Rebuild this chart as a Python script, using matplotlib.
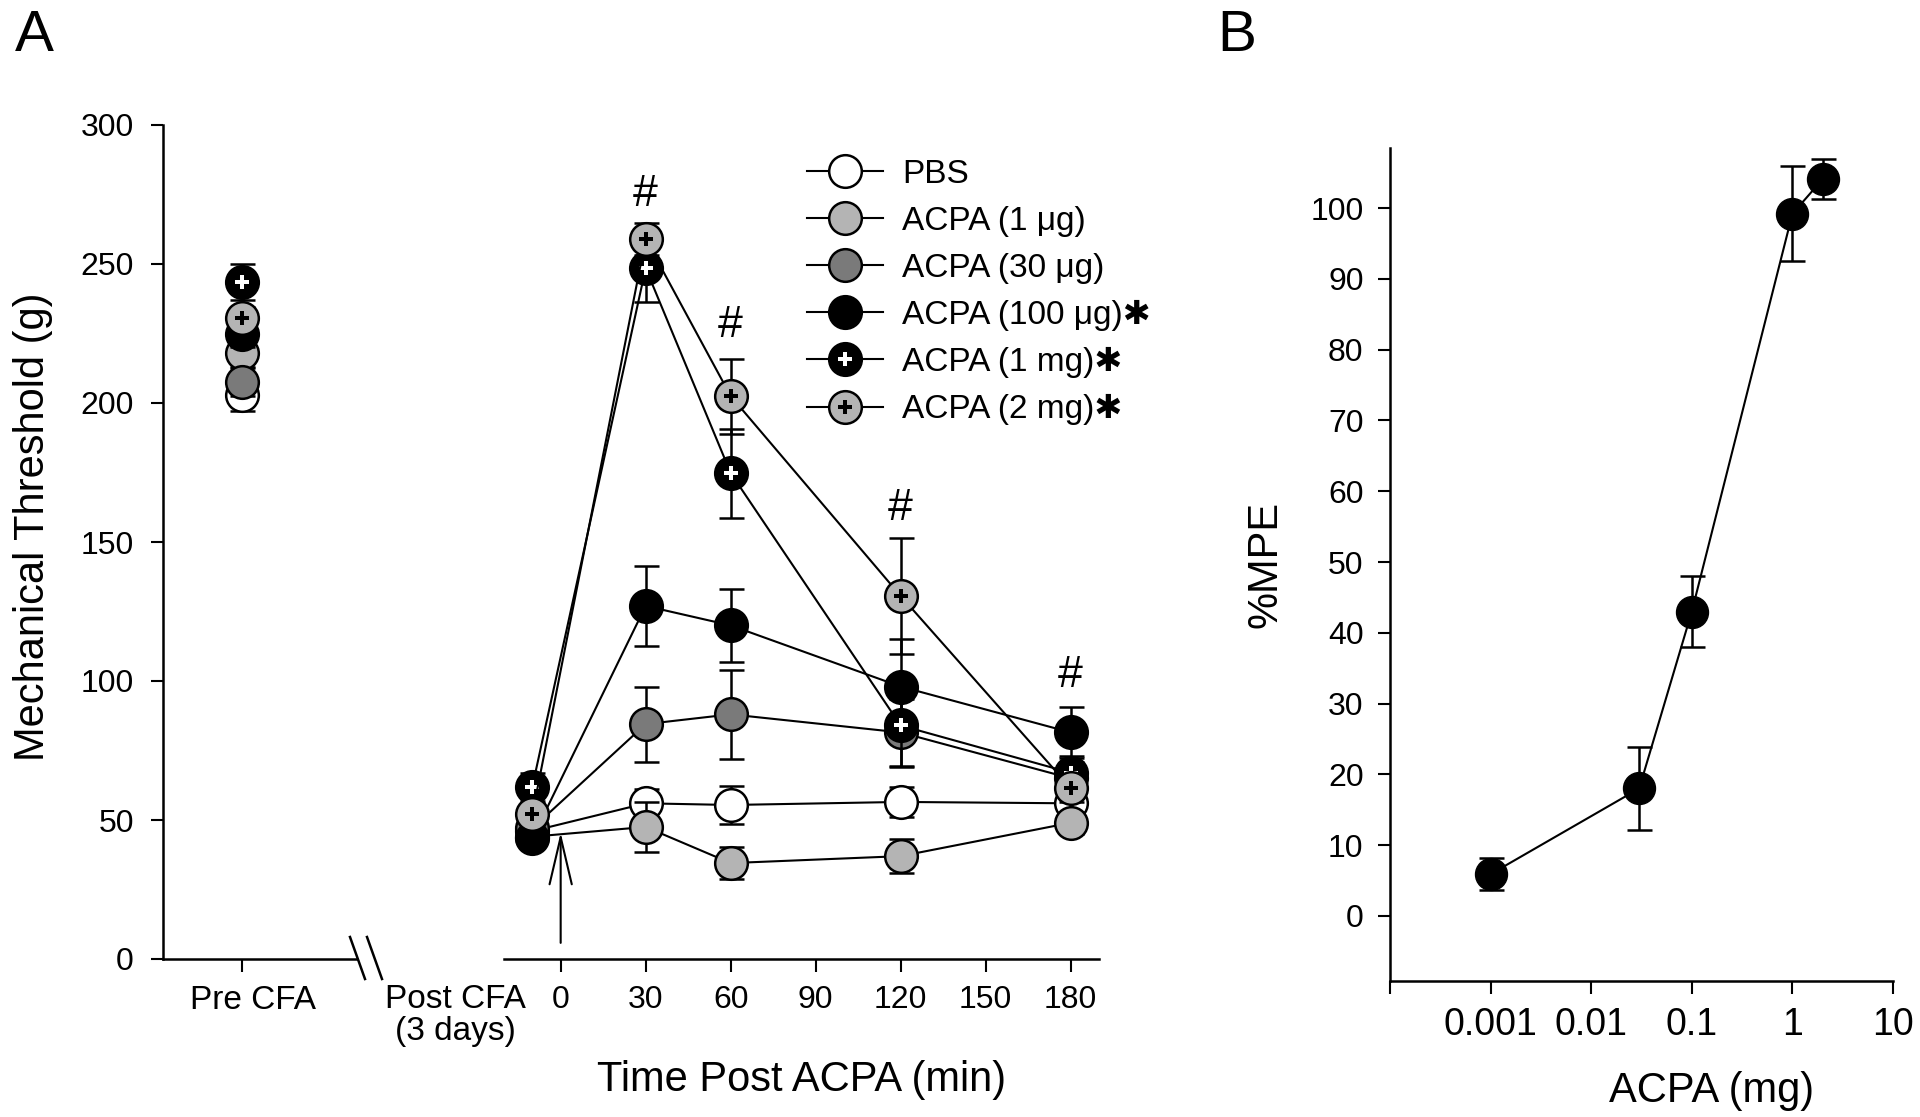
import matplotlib
matplotlib.use("Agg")
import matplotlib.pyplot as plt
import matplotlib.transforms as mtransforms
from matplotlib.lines import Line2D
from matplotlib.legend_handler import HandlerTuple

plt.rcParams['font.family'] = ['Liberation Sans', 'DejaVu Sans']

# ---- data, panel A ----
series = ['PBS', 'ACPA (1 μg)', 'ACPA (30 μg)', 'ACPA (100 μg)', 'ACPA (1 mg)', 'ACPA (2 mg)']
stars = ['', '', '', '✱', '✱', '✱']
faces = ['white', '#b4b4b4', '#7a7a7a', 'black', 'black', '#b4b4b4']
plus_colors = [None, None, None, None, 'white', 'black']

pre_mean = [203, 218, 207.5, 225, 243.5, 230.6]
pre_err = [6, 5, 5, 5, 6.5, 4]

post_time = [-10, 30, 60, 120, 180]
post_mean = [
    [46, 56, 55.4, 56.5, 56],
    [44, 47.5, 34.5, 37, 49],
    [47, 84.5, 88, 81.5, 65],
    [43.5, 127, 120, 98, 81.5],
    [62, 248.5, 174.8, 84, 67],
    [52, 259, 202.5, 130.6, 61.5],
]
post_err = [
    [4, 5, 7, 5.5, 5],
    [4, 9, 5.8, 6, 4],
    [4, 13.5, 16, 12, 6],
    [3, 14.5, 13, 17, 9.3],
    [5, 12, 16, 15, 6],
    [4, 5.7, 13.5, 21, 5],
]
hash_time = [30, 60, 120, 180]
hash_y = [275, 228, 162, 102]

# ---- data, panel B ----
dose = [0.001, 0.03, 0.1, 1, 2]
mpe = [5.9, 18.0, 43.0, 99.2, 104.1]
mpe_err = [2.3, 5.9, 5.0, 6.7, 2.8]

W, H = 1920, 1117
fig = plt.figure(figsize=(W / 100, H / 100), dpi=100)

def rect(x0, x1, ytop, ybot):
    return [x0 / W, 1 - ybot / H, (x1 - x0) / W, (ybot - ytop) / H]

ax_pre = fig.add_axes(rect(163, 357, 125, 959))
ax_post = fig.add_axes(rect(504, 1099, 125, 959))
ax_b = fig.add_axes(rect(1390, 1893, 148, 981))

ms = 23.5
lw = 1.5
ew = 1.8
tick_fs = 23
text_fs = 24

handles = []
for i, name in enumerate(series):
    z = 3 + i
    kw = dict(fmt='-o', color='black', mfc=faces[i], mec='black', ms=ms, mew=ew,
              lw=lw, elinewidth=ew, capsize=9, capthick=ew, zorder=z)
    ax_pre.errorbar([0], [pre_mean[i]], yerr=[pre_err[i]], **kw)
    ax_post.errorbar(post_time, post_mean[i], yerr=post_err[i], **kw)
    h = Line2D([], [], color='black', lw=lw, marker='o', ms=ms, mfc=faces[i], mec='black', mew=ew)
    if plus_colors[i]:
        ax_pre.plot([0], [pre_mean[i]], 'P', ms=9.5, color=plus_colors[i], mew=0, zorder=z + 0.5)
        ax_post.plot(post_time, post_mean[i], 'P', ms=9.5, color=plus_colors[i], mew=0, zorder=z + 0.5)
        hp = Line2D([], [], ls='none', marker='P', ms=9.5, color=plus_colors[i], mew=0)
        handles.append((h, hp))
    else:
        handles.append(h)

labels = [n + s for n, s in zip(series, stars)]
leg = fig.legend(handles, labels, loc='upper left', bbox_to_anchor=(807 / W, 1 - 159 / H),
                 frameon=False, fontsize=24, handlelength=2.28, handletextpad=0.57,
                 labelspacing=0.48, borderpad=0, borderaxespad=0,
                 handler_map={tuple: HandlerTuple(ndivide=1, pad=0)})

# pre CFA axis
ax_pre.set_ylim(0, 300)
ax_pre.set_xlim(-1, 1.457)
ax_pre.set_yticks(range(0, 301, 50))
ax_pre.set_xticks([0])
ax_pre.set_xticklabels(['Pre CFA'], fontsize=text_fs)
ax_pre.spines[['top', 'right']].set_visible(False)
ax_pre.set_ylabel('Mechanical Threshold (g)', fontsize=30, labelpad=20, y=0.518)

# post CFA axis
ax_post.set_ylim(0, 300)
ax_post.set_xlim(-20, 190)
ax_post.set_xticks(range(0, 181, 30))
ax_post.set_yticks([])
ax_post.spines[['top', 'right', 'left']].set_visible(False)
ax_post.set_xlabel('Time Post ACPA (min)', fontsize=30, labelpad=32)
ax_post.text(-37, -0.03, 'Post CFA\n(3 days)', transform=ax_post.get_xaxis_transform(),
             ha='center', va='top', fontsize=text_fs, linespacing=1.05)
for t, y in zip(hash_time, hash_y):
    ax_post.text(t, y, '#', ha='center', va='center', fontsize=32)
ax_post.annotate('', xy=(0, 45.5), xytext=(0, 5.8),
                 arrowprops=dict(arrowstyle='->,head_length=1.7,head_width=0.4',
                                 lw=1.5, color='black', mutation_scale=20,
                                 shrinkA=0, shrinkB=0))

for ax in (ax_pre, ax_post, ax_b):
    for s in ax.spines.values():
        s.set_linewidth(1.8)
    ax.tick_params(direction='out', length=9, width=1.5, labelsize=tick_fs, pad=10)
    ax.patch.set_alpha(0)
ax_pre.tick_params(axis='y', pad=12)
ax_pre.tick_params(axis='x', labelsize=text_fs)
shift = mtransforms.ScaledTranslation(0.11, 0, fig.dpi_scale_trans)
for lab in ax_pre.get_xticklabels():
    lab.set_transform(lab.get_transform() + shift)

# axis break marks
for dx in (0, 17):
    fig.add_artist(Line2D([(350 + dx) / W, (365 + dx) / W], [1 - 937 / H, 1 - 979 / H],
                          color='black', lw=1.8))

# panel B
ax_b.errorbar(dose, mpe, yerr=mpe_err, fmt='-o', color='black', mfc='black', mec='black',
              ms=23, lw=lw, elinewidth=ew, capsize=9, capthick=ew)
ax_b.set_xscale('log')
ax_b.set_xlim(1e-4, 10)
ax_b.set_ylim(-9.2, 108.5)
ax_b.set_xticks([1e-4, 1e-3, 1e-2, 1e-1, 1, 10])
ax_b.set_xticklabels(['', '0.001', '0.01', '0.1', '1', '10'])
ax_b.xaxis.set_minor_locator(matplotlib.ticker.NullLocator())
ax_b.set_yticks(range(0, 101, 10))
ax_b.spines[['top', 'right']].set_visible(False)
ax_b.set_xlabel('ACPA (mg)', fontsize=30, labelpad=20, x=0.64)
ax_b.set_ylabel('%MPE', fontsize=30, labelpad=18)
ax_b.tick_params(axis='x', labelsize=27)

fig.text(15 / W, 1 - 36 / H, 'A', fontsize=42, va='center', ha='left')
fig.text(1217 / W, 1 - 36 / H, 'B', fontsize=42, va='center', ha='left')

fig.savefig('out.png', dpi=100)
